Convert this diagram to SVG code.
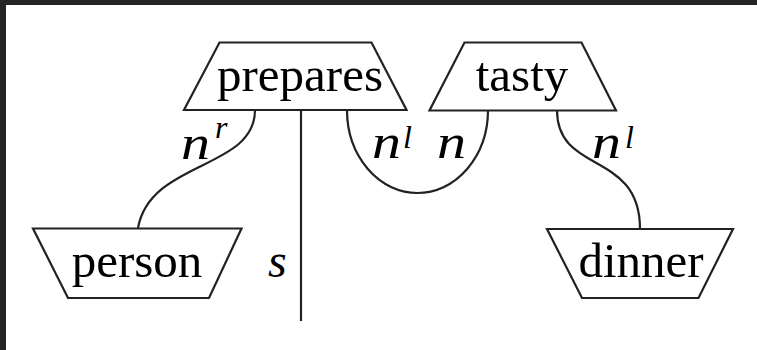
<svg xmlns="http://www.w3.org/2000/svg" width="757" height="350" viewBox="0 0 757 350">
<style>
.box{fill:#fff;stroke:#222;stroke-width:2.2;stroke-linejoin:miter}
.wire{fill:none;stroke:#222;stroke-width:2.2}
.lbl{font-size:49px;fill:#000;text-anchor:middle}
.m{font-style:italic;font-size:48px;fill:#000}
.sup{font-style:italic;font-size:32px;fill:#000}
</style>
<rect x="0" y="0" width="757" height="350" fill="#fff"/>
<rect x="0" y="0" width="757" height="5" fill="#242424"/>
<rect x="0" y="0" width="6" height="350" fill="#242424"/>
<g id="connectors" font-family="Liberation Serif, Times New Roman, serif">
<path class="wire" d="M255,110 C255,170 150,160 138,228"/>
<path class="wire" d="M301,110 L301,321"/>
<path class="wire" d="M347,110 A70.5,83 0 0 0 488,110"/>
<path class="wire" d="M557,110 C557,175 640,150 640,229"/>
<text class="m" x="181" y="159" textLength="29" lengthAdjust="spacingAndGlyphs">n</text><text class="sup" x="215" y="138">r</text>
<text class="m" x="372" y="158" textLength="29" lengthAdjust="spacingAndGlyphs">n</text><text class="sup" x="403" y="148">l</text>
<text class="m" x="437" y="158" textLength="29" lengthAdjust="spacingAndGlyphs">n</text>
<text class="m" x="592" y="158" textLength="29" lengthAdjust="spacingAndGlyphs">n</text><text class="sup" x="625" y="148">l</text>
<text class="m" x="268" y="277">s</text>
</g>
<g id="prepares" font-family="Liberation Serif, Times New Roman, serif">
<polygon class="box" points="219.5,42.5 371.5,42.5 406.5,110 184,110"/>
<text class="lbl" x="300" y="91">prepares</text>
</g>
<g id="tasty" font-family="Liberation Serif, Times New Roman, serif">
<polygon class="box" points="464.5,42.5 581.5,42.5 616,110.5 429.5,110.5"/>
<text class="lbl" x="522" y="91">tasty</text>
</g>
<g id="person" font-family="Liberation Serif, Times New Roman, serif">
<polygon class="box" points="33,228.5 241.5,228.5 209,298 68,298"/>
<text class="lbl" x="137" y="277">person</text>
</g>
<g id="dinner" font-family="Liberation Serif, Times New Roman, serif">
<polygon class="box" points="547,229 733,229 698.5,298 582,298"/>
<text class="lbl" x="641" y="277">dinner</text>
</g>
</svg>
